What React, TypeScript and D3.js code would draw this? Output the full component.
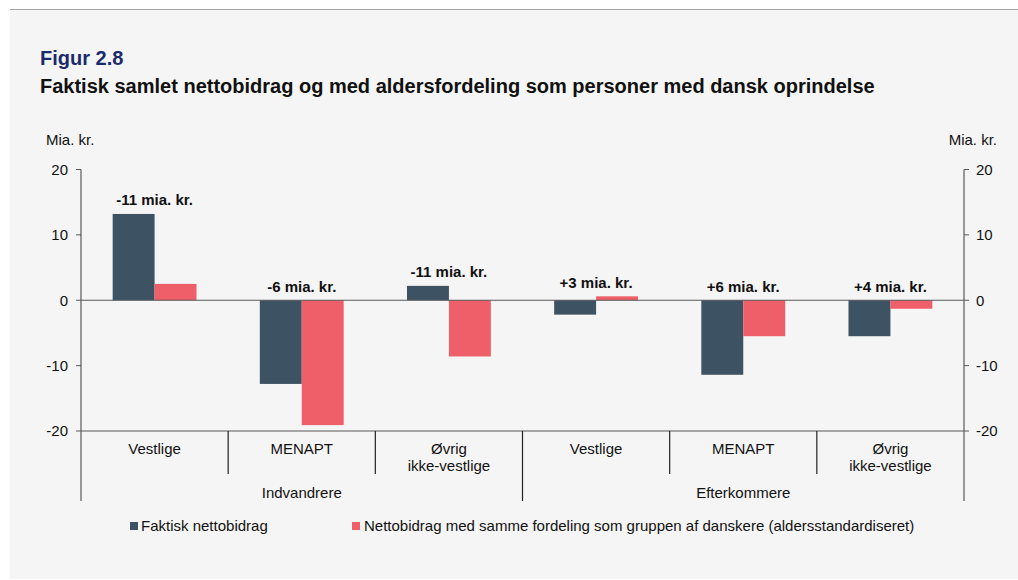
import React from "react";
import * as d3 from "d3";

const categories = ["Vestlige", "MENAPT", "Øvrig\nikke-vestlige", "Vestlige", "MENAPT", "Øvrig\nikke-vestlige"];
const groups = ["Indvandrere", "Efterkommere"];
const actual = [13.2, -12.8, 2.2, -2.2, -11.4, -5.5];
const standardized = [2.5, -19.1, -8.6, 0.6, -5.5, -1.3];
const diffLabels = ["-11 mia. kr.", "-6 mia. kr.", "-11 mia. kr.", "+3 mia. kr.", "+6 mia. kr.", "+4 mia. kr."];
const yTicks = [-20, -10, 0, 10, 20];
const seriesNames = ["Faktisk nettobidrag", "Nettobidrag med samme fordeling som gruppen af danskere (aldersstandardiseret)"];
const colors = ["#3d5263", "#ef5f69"];

const W = 1018, H = 580;
const left = 81, right = 964, top = 169.5, bottom = 431;
const font = "Arial, 'Liberation Sans', sans-serif";

export default function App() {
  const y = d3.scaleLinear().domain([-20, 20]).range([bottom, top]);
  const x = d3.scaleBand<number>().domain(d3.range(categories.length)).range([left, right]).paddingInner(0).paddingOuter(0);
  const inner = d3.scaleBand<number>().domain([0, 1]).range([0, x.bandwidth()]).paddingOuter(0.755).paddingInner(0);
  const bw = x.bandwidth();
  const groupSize = categories.length / groups.length;

  return (
    <div style={{ position: "fixed", left: 0, top: 0 }}>
      <svg width={W} height={H} style={{ display: "block", fontFamily: font }}>
        <rect x={0} y={0} width={W} height={H} fill="#ffffff" />
        <rect x={10} y={10} width={W - 10} height={569} fill="#f5f5f5" />
        <line x1={10} x2={W} y1={9.5} y2={9.5} stroke="#a6a6a6" strokeWidth={1} />
        <text x={40} y={65} fontSize={20} fontWeight="bold" fill="#1b2a6b">Figur 2.8</text>
        <text x={40} y={93} fontSize={20} fontWeight="bold" fill="#111">Faktisk samlet nettobidrag og med aldersfordeling som personer med dansk oprindelse</text>

        <text x={46} y={140} dy="0.35em" fontSize={15} fill="#111">Mia. kr.</text>
        <text x={997} y={140} dy="0.35em" fontSize={15} fill="#111" textAnchor="end">Mia. kr.</text>

        {/* bars */}
        {categories.map((c, i) => {
          const x0 = x(i)!;
          const vals = [actual[i], standardized[i]];
          return (
            <g key={i}>
              {vals.map((v, s) => (
                <rect key={s} x={x0 + inner(s)!} width={inner.bandwidth()} y={Math.min(y(v), y(0))}
                  height={Math.abs(y(v) - y(0))} fill={colors[s]} />
              ))}
            </g>
          );
        })}

        {/* zero line */}
        <line x1={left} x2={right} y1={y(0)} y2={y(0)} stroke="#595959" strokeWidth={1.2} />
        {/* bottom line */}
        <line x1={left} x2={right} y1={y(-20)} y2={y(-20)} stroke="#595959" strokeWidth={1.2} />

        {/* axes */}
        <line x1={left} x2={left} y1={top} y2={501} stroke="#595959" strokeWidth={1.2} />
        <line x1={right} x2={right} y1={top} y2={501} stroke="#595959" strokeWidth={1.2} />
        {yTicks.map((t) => (
          <g key={t}>
            <line x1={left - 5} x2={left} y1={y(t)} y2={y(t)} stroke="#595959" />
            <line x1={right} x2={right + 5} y1={y(t)} y2={y(t)} stroke="#595959" />
            <text x={left - 13} y={y(t)} dy="0.35em" fontSize={15} textAnchor="end" fill="#111">{t}</text>
            <text x={right + 12} y={y(t)} dy="0.35em" fontSize={15} textAnchor="start" fill="#111">{t}</text>
          </g>
        ))}

        {/* category separators */}
        {categories.map((c, i) => i > 0 ? (
          <line key={i} x1={x(i)!} x2={x(i)!} y1={y(-20)} y2={i % groupSize === 0 ? 501 : 474}
            stroke="#222" strokeWidth={1.2} />
        ) : null)}

        {/* category labels */}
        {categories.map((c, i) => (
          <text key={i} x={x(i)! + bw / 2} y={449} fontSize={15} textAnchor="middle" fill="#111">
            {c.split("\n").map((ln, k) => (
              <tspan key={k} x={x(i)! + bw / 2} dy={k === 0 ? "0.35em" : 17}>{ln}</tspan>
            ))}
          </text>
        ))}
        {groups.map((g, gi) => (
          <text key={g} x={x(gi * groupSize)! + (bw * groupSize) / 2} y={493} dy="0.35em" fontSize={15}
            textAnchor="middle" fill="#111">{g}</text>
        ))}

        {/* difference labels */}
        {diffLabels.map((l, i) => {
          const maxV = Math.max(0, actual[i], standardized[i]);
          return (
            <text key={i} x={x(i)! + bw / 2} y={y(maxV) - 14} dy="0.35em" fontSize={15} fontWeight="bold"
              textAnchor="middle" fill="#111">{l}</text>
          );
        })}

        {/* legend */}
        <rect x={130} y={522} width={8} height={8} fill={colors[0]} />
        <text x={141} y={526} dy="0.35em" fontSize={15} fill="#111">{seriesNames[0]}</text>
        <rect x={352} y={522} width={8} height={8} fill={colors[1]} />
        <text x={364} y={526} dy="0.35em" fontSize={15} fill="#111">{seriesNames[1]}</text>
      </svg>
    </div>
  );
}
